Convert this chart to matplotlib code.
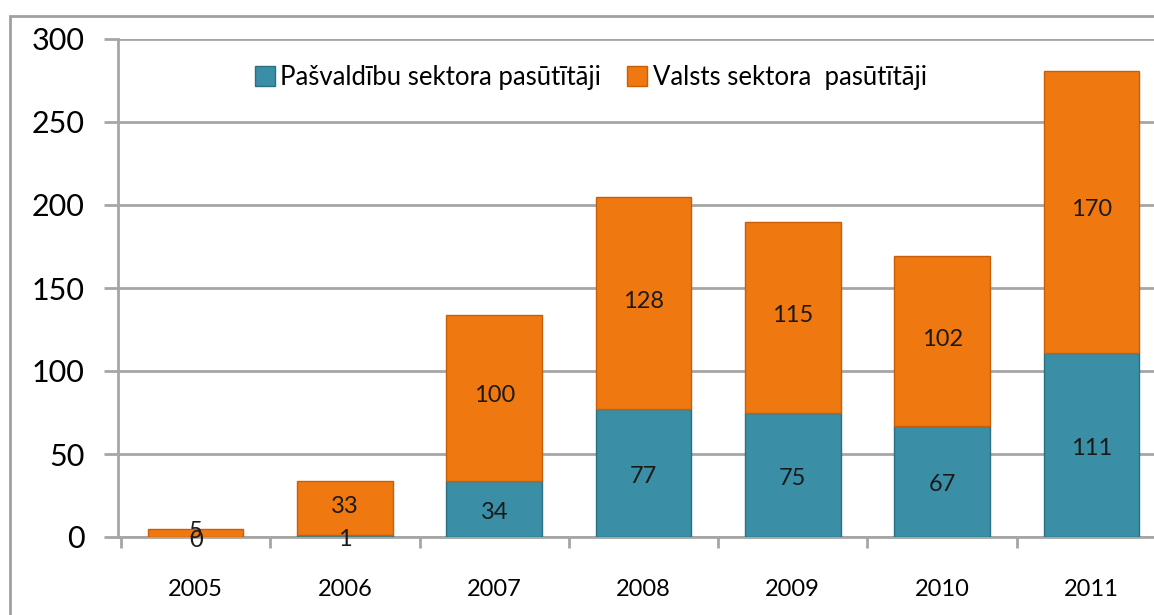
import matplotlib.pyplot as plt
from matplotlib.patches import Rectangle

years = ['2005', '2006', '2007', '2008', '2009', '2010', '2011']
pasvaldibu = [0, 1, 34, 77, 75, 67, 111]
valsts = [5, 33, 100, 128, 115, 102, 170]

teal = '#3a8ea6'
orange = '#f07810'
grid_c = '#a6a6a6'

plt.rcParams['font.family'] = ['Lato', 'DejaVu Sans']

fig = plt.figure(figsize=(11.54, 6.15), dpi=100)

# outer chart frame (cropped at right and bottom)
fig.patches.append(Rectangle((10 / 1154, -0.1), 1.2, 0.1 + (615 - 16) / 615,
                             transform=fig.transFigure, fill=False,
                             edgecolor='#a0a0a0', linewidth=2))

ax = fig.add_axes([118 / 1154, 78 / 615, 1051 / 1154, 498 / 615])

x = range(len(years))
w = 0.64
ax.bar(x, pasvaldibu, w, color=teal, edgecolor='#2c6f82', linewidth=1,
       label='Pašvaldību sektora pasūtītāji', zorder=3)
ax.bar(x, valsts, w, bottom=pasvaldibu, color=orange, edgecolor='#c85f08',
       linewidth=1, label='Valsts sektora  pasūtītāji', zorder=3)

for i in x:
    ax.text(i, pasvaldibu[i] / 2 - 2, str(pasvaldibu[i]), ha='center', va='center',
            fontsize=17, color='#1a1a1a', zorder=4)
    ax.text(i, pasvaldibu[i] + valsts[i] / 2 + 1, str(valsts[i]), ha='center',
            va='center', fontsize=17, color='#1a1a1a', zorder=4)

ax.set_xlim(-0.52, 6.52)
ax.set_ylim(0, 300)
ax.set_yticks(range(0, 301, 50))
ax.set_xticks(list(x))
ax.set_xticks([i + 0.5 for i in range(-1, 7)], minor=True)
ax.set_xticklabels(years)
ax.tick_params(axis='x', which='major', length=0, pad=30, labelsize=17)
ax.tick_params(axis='x', which='minor', length=8, width=2, color=grid_c)
ax.tick_params(axis='y', labelsize=22, length=10, width=2, color=grid_c, pad=14)
ax.yaxis.grid(True, color=grid_c, linewidth=2, zorder=0)
ax.set_axisbelow(True)
for s in ['top', 'right']:
    ax.spines[s].set_visible(False)
for s in ['left', 'bottom']:
    ax.spines[s].set_color(grid_c)
    ax.spines[s].set_linewidth(2)

ax.legend(loc='upper left', bbox_to_anchor=(0.108, 0.995), ncol=2, frameon=False,
          fontsize=18.5, handlelength=0.8, handleheight=0.8, handletextpad=0.2,
          columnspacing=1.0)

fig.savefig('out.png', dpi=100)
